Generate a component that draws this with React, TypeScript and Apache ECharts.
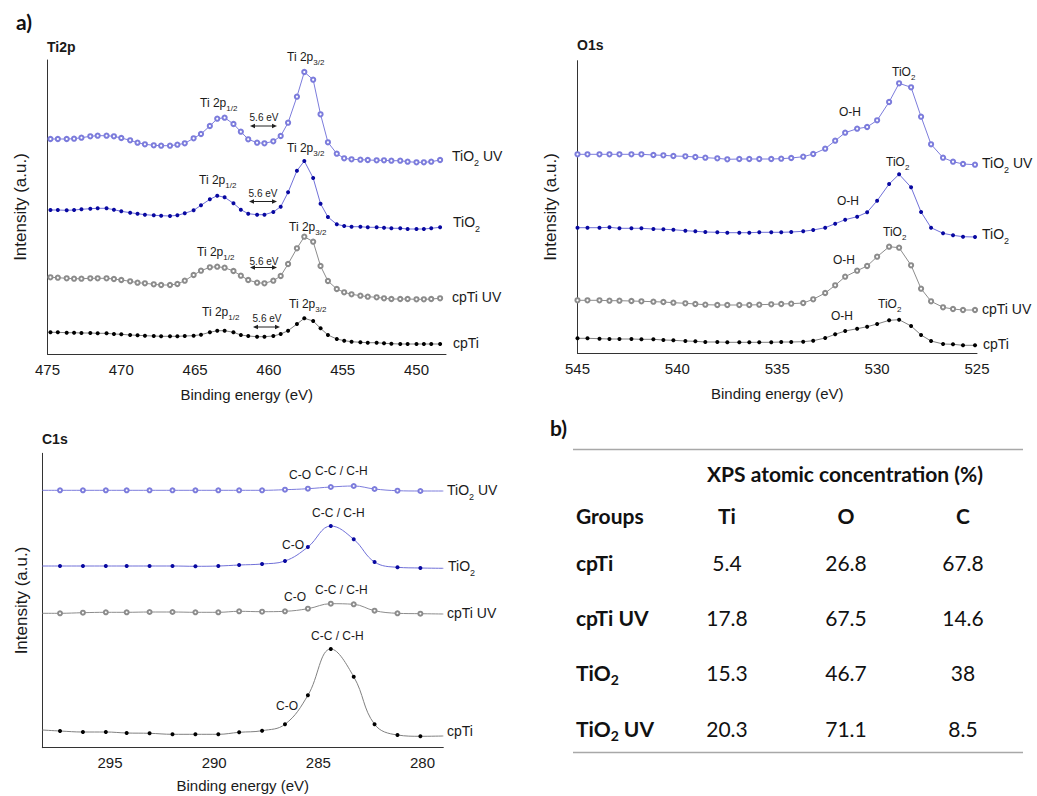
import React, { useEffect, useRef } from 'react';
import * as echarts from 'echarts';

// ---------------- Ti2p panel ----------------
const ti2pEnergy = [474.8, 474.3, 473.7, 473.2, 472.7, 472.1, 471.6, 471.0, 470.5, 470.0, 469.4, 468.9, 468.4, 467.8, 467.3, 466.7, 466.2, 465.7, 465.1, 464.6, 464.0, 463.5, 463.0, 462.4, 461.9, 461.4, 460.8, 460.3, 459.7, 459.2, 458.7, 458.1, 457.6, 457.0, 456.5, 456.0, 455.4, 454.9, 454.4, 453.8, 453.3, 452.7, 452.2, 451.7, 451.1, 450.6, 450.0, 449.5, 449.0, 448.4];
const ti2pTiO2UV = [208, 208, 208, 208.3, 209.3, 210.7, 211.3, 211.3, 210.7, 209, 206.7, 204.3, 202.7, 201.7, 201.3, 201.3, 202.3, 203.7, 208.7, 213, 221, 228.3, 229.3, 223, 215.3, 207.7, 204.3, 203.7, 205.7, 211, 224.3, 250.3, 275, 267.3, 232.7, 204.7, 193.3, 188.7, 187.7, 187.3, 187, 186.7, 186.7, 186.3, 186.3, 185.3, 184.7, 184.7, 185.3, 187];
const ti2pTiO2 = [137, 137, 136.7, 137, 137.7, 138.3, 138.7, 138.7, 137.3, 135.7, 134.3, 133.3, 132.3, 131.7, 131.3, 131, 131.7, 133.7, 136.7, 141.7, 147.7, 151.3, 149.7, 143.7, 137.3, 133.3, 132.3, 132.3, 135, 140.3, 154.7, 176.3, 186, 169, 143.3, 130, 122.7, 121, 120.3, 120.3, 119.7, 119.7, 119.3, 118.7, 118.7, 118, 118, 118, 118.7, 119.7];
const ti2pCpTiUV = [69.7, 69.3, 68.7, 68.3, 68.3, 68.7, 68.7, 68.7, 68, 67, 65.7, 64.3, 63.7, 62.7, 62, 62, 63, 66.3, 72, 76.3, 79.7, 80.3, 79.3, 76, 71.3, 67, 64.3, 63.7, 66.3, 71, 83, 98.7, 110.3, 105.3, 81, 66, 58, 54.7, 52.7, 51.3, 50.3, 49.7, 48.7, 48, 48, 48, 47.7, 47.7, 48, 48.7];
const ti2pCpTi = [14.7, 14.7, 14.3, 14.3, 14, 14, 13.7, 13.7, 13, 12.7, 12, 11.7, 11.3, 11, 10.7, 10.7, 10.7, 11, 11.3, 12.3, 14.7, 16.3, 16.3, 14.7, 12, 11, 10.3, 10.3, 11, 13, 16.3, 23, 28.7, 26, 18.7, 12, 8, 6.3, 5.3, 4.7, 4.3, 4.3, 3.7, 3.3, 3, 3, 3, 3, 3, 3];
const ti2pTicks = [475, 470, 465, 460, 455, 450];

// ---------------- O1s panel ----------------
const o1sEnergy = [545.0, 544.5, 543.9, 543.4, 542.9, 542.3, 541.8, 541.2, 540.7, 540.2, 539.6, 539.1, 538.6, 538.0, 537.5, 536.9, 536.4, 535.9, 535.3, 534.8, 534.3, 533.7, 533.2, 532.6, 532.1, 531.6, 531.0, 530.5, 530.0, 529.4, 528.9, 528.3, 527.8, 527.3, 526.7, 526.2, 525.7, 525.1];
const o1sTiO2UV = [192.7, 192.7, 192.7, 192.7, 192.7, 192.7, 192.7, 192, 191.7, 191, 190.7, 190, 189.3, 188.7, 187.7, 188, 188, 188, 188, 188.3, 189, 190.3, 193, 198.3, 206.3, 214.3, 218.3, 220, 226.7, 245, 263.7, 259.7, 230.3, 202.7, 189.3, 185.3, 183, 182.3];
const o1sTiO2 = [119.3, 119.3, 119.3, 119.7, 118.7, 118.7, 118.7, 118, 117.7, 117.3, 116.3, 115.7, 115, 114.7, 114.3, 114.3, 114.3, 114.7, 114.7, 114.7, 115, 115.7, 117, 119.3, 123.3, 127.3, 130.3, 134.7, 146.3, 163, 172.7, 159.7, 135, 119.3, 113.7, 111.7, 110.3, 110];
const o1sCpTiUV = [46.7, 46.7, 46.7, 46.3, 46.3, 46, 45.7, 45.3, 45, 44.3, 43.7, 43, 42.3, 42, 42, 42, 42, 42.3, 42.7, 43, 43.3, 44, 47.7, 54, 61.7, 70.3, 76.3, 81, 90.3, 100.3, 99.3, 81.7, 58.3, 45.7, 39.7, 38, 37, 37];
const o1sCpTi = [8.7, 8.7, 8.3, 8, 8, 8, 7.7, 7.7, 7, 6.7, 6, 5.7, 5, 5, 4.7, 4.7, 4.7, 4.7, 4.7, 5, 5, 5.3, 6.3, 9, 12.7, 16, 18.3, 20.3, 23, 26.7, 27.3, 21, 12, 6, 3, 2.7, 1.7, 1.7];
const o1sTicks = [545, 540, 535, 530, 525];

// ---------------- C1s panel ----------------
const c1sEnergy = [297.4, 296.3, 295.2, 294.2, 293.1, 292.0, 290.9, 289.8, 288.8, 287.7, 286.6, 285.5, 284.4, 283.3, 282.3, 281.2, 280.1];
const c1sEdgeEnergy = [298.25, 279.0]; // where the traced curves start / end (no marker)
const c1sTiO2UV = [257.4, 257.4, 257.4, 257.4, 257.4, 257.4, 257.4, 257.4, 257.4, 257.4, 258, 259, 260.7, 261.7, 258.7, 257, 256.7];
const c1sTiO2UVEdges = [257.4, 256.7];
const c1sTiO2 = [181.7, 181.7, 181.7, 181.7, 181.7, 181.7, 181.4, 181.7, 182.7, 183.7, 186.7, 200.7, 221.7, 208.4, 185.7, 180.4, 179.7];
const c1sTiO2Edges = [181.7, 179.4];
const c1sCpTiUV = [134.4, 135, 135.4, 135.4, 135.7, 135.7, 135.4, 135.4, 136.4, 136, 136.4, 139, 144, 143.4, 137, 134.4, 134];
const c1sCpTiUVEdges = [134.4, 133.7];
const c1sCpTi = [16.7, 15.7, 15.7, 14.7, 14.4, 13.4, 13.4, 13.4, 15.4, 17, 23.4, 52.4, 98.7, 71, 23.4, 12.7, 11.4];
const c1sCpTiEdges = [17.7, 11.7];
const c1sTicks = [295, 290, 285, 280];

// ---------------- Table (b) ----------------
const tableGroups = ['cpTi', 'cpTi UV', 'TiO_{2}', 'TiO_{2} UV'];
const tableElements = ['Ti', 'O', 'C'];
const tableTi = [5.4, 17.8, 15.3, 20.3];
const tableO = [26.8, 67.5, 46.7, 71.1];
const tableC = [67.8, 14.6, 38, 8.5];

const SANS = '"Liberation Sans", Arial, Helvetica, sans-serif';
const TFONT = 'Lato, "Open Sans", sans-serif';
const INK = '#1a1a1a';

const STY = {
  tio2uv: { symbol: 'emptyCircle', size: 4.2, mark: '#7c7cdc', line: '#7c7cdc', bw: 0.8 },
  tio2: { symbol: 'circle', size: 4, mark: '#0808a0', line: '#7070d8', bw: 0 },
  cptiuv: { symbol: 'emptyCircle', size: 4.2, mark: '#8c8c8c', line: '#8c8c8c', bw: 0.8 },
  cpti: { symbol: 'circle', size: 4, mark: '#000000', line: '#808080', bw: 0 },
};

function toRich(s: string) {
  const parts = s.split(/_\{([^}]*)\}/);
  let out = '';
  parts.forEach((p, i) => {
    if (!p) return;
    out += i % 2 === 0 ? `{m|${p}}` : `{s|${p}}`;
  });
  return out;
}

function richStyles(F: number, S: number, d: number, family: string, weight: any, color: string) {
  const P = Math.max(0, Math.round((F + 2) / 2 + d - S / 2));
  return {
    m: { fontSize: F, lineHeight: F + 2, verticalAlign: 'top', fontFamily: family, fontWeight: weight, fill: color, color },
    s: { fontSize: S, lineHeight: S, padding: [P, 0, 0, 0], fontFamily: family, fontWeight: weight, fill: color, color },
  };
}

function txt(x: number, yc: number, s: string, F: number, o: any = {}) {
  const S = o.S ?? Math.round(F * 0.65);
  const d = o.d ?? F * 0.45;
  const family = o.family ?? SANS;
  const weight = o.weight ?? 'normal';
  const color = o.color ?? INK;
  return {
    type: 'text',
    x,
    y: yc - (F + 2) / 2,
    silent: true,
    style: {
      text: toRich(s),
      rich: richStyles(F, S, d, family, weight, color),
      fontSize: F,
      fontFamily: family,
      fontWeight: weight,
      fill: color,
      align: o.align ?? 'left',
      verticalAlign: 'top',
    },
  };
}

function arrow(x1: number, x2: number, y: number) {
  const c = '#222';
  return [
    { type: 'line', silent: true, shape: { x1: x1 + 2, y1: y, x2: x2 - 2, y2: y }, style: { stroke: c, lineWidth: 1 } },
    { type: 'polygon', silent: true, shape: { points: [[x1, y], [x1 + 5, y - 2.3], [x1 + 5, y + 2.3]] }, style: { fill: c } },
    { type: 'polygon', silent: true, shape: { points: [[x2, y], [x2 - 5, y - 2.3], [x2 - 5, y + 2.3]] }, style: { fill: c } },
  ];
}

function series(name: string, idx: number, xs: number[], ys: number[], st: any, smooth: any = false, edges?: number[]) {
  const data: any[] = xs.map((x, i) => [x, ys[i]]);
  if (edges) {
    data.unshift({ value: [c1sEdgeEnergy[0], edges[0]], symbol: 'none' });
    data.push({ value: [c1sEdgeEnergy[1], edges[1]], symbol: 'none' });
  }
  return {
    type: 'line',
    name,
    xAxisIndex: idx,
    yAxisIndex: idx,
    data,
    symbol: st.symbol,
    symbolSize: st.size,
    showSymbol: true,
    showAllSymbol: true,
    smooth,
    silent: true,
    lineStyle: { color: st.line, width: 1 },
    itemStyle: { color: st.mark, borderColor: st.mark, borderWidth: st.bw },
    emphasis: { disabled: true },
  };
}

function xAxis(idx: number, min: number, max: number, ticks: number[], nameGap: number, margin: number) {
  return {
    type: 'value',
    gridIndex: idx,
    min,
    max,
    inverse: true,
    name: 'Binding energy (eV)',
    nameLocation: 'middle',
    nameGap,
    nameTextStyle: { fontFamily: SANS, fontSize: 15, color: INK },
    axisLine: { show: true, onZero: false, lineStyle: { color: '#333', width: 1 } },
    axisTick: { show: false },
    splitLine: { show: false },
    axisLabel: { customValues: ticks, fontFamily: SANS, fontSize: 15, color: INK, margin },
  };
}

function yAxis(idx: number, min: number, max: number, nameGap: number) {
  return {
    type: 'value',
    gridIndex: idx,
    min,
    max,
    name: 'Intensity (a.u.)',
    nameLocation: 'middle',
    nameGap,
    nameTextStyle: { fontFamily: SANS, fontSize: 17, color: INK },
    axisLine: { show: true, onZero: false, lineStyle: { color: '#333', width: 1 } },
    axisTick: { show: false },
    axisLabel: { show: false },
    splitLine: { show: false },
  };
}

export default function App() {
  const ref = useRef<HTMLDivElement>(null);
  useEffect(() => {
    if (!ref.current) return;
    const chart = echarts.init(ref.current, undefined, { renderer: 'svg' });

    const g: any[] = [];
    // panel letters and titles
    g.push(txt(16, 22, 'a)', 21, { family: TFONT, weight: 'bold', color: '#111' }));
    g.push(txt(550, 428, 'b)', 21, { family: TFONT, weight: 'bold', color: '#111' }));
    g.push(txt(47, 48, 'Ti2p', 14, { weight: 'bold' }));
    g.push(txt(577, 46, 'O1s', 14, { weight: 'bold' }));
    g.push(txt(42, 440, 'C1s', 14, { weight: 'bold' }));

    // Ti2p annotations
    const pk = { S: 8, d: 5.5 };
    g.push(txt(287, 57.5, 'Ti 2p_{3/2}', 12, pk));
    g.push(txt(200, 104, 'Ti 2p_{1/2}', 12, pk));
    g.push(txt(264, 118, '5.6 eV', 10, { align: 'center' }));
    g.push(...arrow(250, 277, 126));
    g.push(txt(287, 149, 'Ti 2p_{3/2}', 12, pk));
    g.push(txt(199, 181, 'Ti 2p_{1/2}', 12, pk));
    g.push(txt(263, 194, '5.6 eV', 10, { align: 'center' }));
    g.push(...arrow(249, 277, 201.5));
    g.push(txt(289, 228, 'Ti 2p_{3/2}', 12, pk));
    g.push(txt(197, 253, 'Ti 2p_{1/2}', 12, pk));
    g.push(txt(264, 262, '5.6 eV', 10, { align: 'center' }));
    g.push(...arrow(250, 277, 267.5));
    g.push(txt(289, 305, 'Ti 2p_{3/2}', 12, pk));
    g.push(txt(202, 313, 'Ti 2p_{1/2}', 12, pk));
    g.push(txt(267, 319.5, '5.6 eV', 10, { align: 'center' }));
    g.push(...arrow(253, 280, 327));

    const side = { S: 9, d: 7.5 };
    g.push(txt(452, 157, 'TiO_{2} UV', 14, side));
    g.push(txt(453, 223, 'TiO_{2}', 14, side));
    g.push(txt(452, 298, 'cpTi UV', 14, side));
    g.push(txt(453, 343.5, 'cpTi', 14, side));

    // O1s annotations
    g.push(txt(892, 73, 'TiO_{2}', 12, pk));
    g.push(txt(839, 113, 'O-H', 12));
    g.push(txt(886, 163, 'TiO_{2}', 12, pk));
    g.push(txt(837, 202, 'O-H', 12));
    g.push(txt(883, 233, 'TiO_{2}', 12, pk));
    g.push(txt(833, 261, 'O-H', 12));
    g.push(txt(878, 305, 'TiO_{2}', 12, pk));
    g.push(txt(831, 317, 'O-H', 12));
    g.push(txt(982, 164, 'TiO_{2} UV', 14, side));
    g.push(txt(982, 235, 'TiO_{2}', 14, side));
    g.push(txt(982, 309.5, 'cpTi UV', 14, side));
    g.push(txt(983, 345, 'cpTi', 14, side));

    // C1s annotations
    g.push(txt(289, 476, 'C-O', 12));
    g.push(txt(315, 472, 'C-C / C-H', 12));
    g.push(txt(312, 514, 'C-C / C-H', 12));
    g.push(txt(282, 546, 'C-O', 12));
    g.push(txt(284, 598, 'C-O', 12));
    g.push(txt(315, 591, 'C-C / C-H', 12));
    g.push(txt(311, 637, 'C-C / C-H', 12));
    g.push(txt(276, 707, 'C-O', 12));
    g.push(txt(447, 491, 'TiO_{2} UV', 14, side));
    g.push(txt(448, 567, 'TiO_{2}', 14, side));
    g.push(txt(447, 614, 'cpTi UV', 14, side));
    g.push(txt(447, 732, 'cpTi', 14, side));

    // Table
    const rule = { stroke: '#a8a8a8', lineWidth: 1.5 };
    g.push({ type: 'line', silent: true, shape: { x1: 573, y1: 449.5, x2: 1023, y2: 449.5 }, style: rule });
    g.push({ type: 'line', silent: true, shape: { x1: 573, y1: 752.5, x2: 1023, y2: 752.5 }, style: rule });
    const tb = { family: TFONT, color: '#111', S: 14, d: 7 };
    g.push(txt(845, 474, 'XPS atomic concentration (%)', 21, { ...tb, weight: 'bold', align: 'center' }));
    const colX = [727, 846, 963];
    g.push(txt(576, 516, 'Groups', 21, { ...tb, weight: 'bold' }));
    tableElements.forEach((e, i) => g.push(txt(colX[i], 516, e, 21, { ...tb, weight: 'bold', align: 'center' })));
    const rowY = [563.5, 618.5, 673.5, 729.5];
    tableGroups.forEach((name, r) => {
      g.push(txt(576, rowY[r], name, 21, { ...tb, weight: 'bold' }));
      [tableTi, tableO, tableC].forEach((col, c) => {
        g.push(txt(colX[c], rowY[r], String(col[r]), 21, { ...tb, align: 'center' }));
      });
    });

    const option: any = {
      animation: false,
      backgroundColor: '#ffffff',
      grid: [
        { left: 47.5, top: 60, width: 398.5, height: 294 },
        { left: 577.5, top: 60.7, width: 399.5, height: 292.6 },
        { left: 42.3, top: 453.3, width: 401, height: 294.4 },
      ].map((gr) => ({ ...gr, containLabel: false, outerBoundsMode: 'none' })),
      xAxis: [
        xAxis(0, 448, 475, ti2pTicks, 33, 8),
        xAxis(1, 525, 545, o1sTicks, 33, 8),
        xAxis(2, 279, 298.25, c1sTicks, 30, 7),
      ],
      yAxis: [yAxis(0, -7, 287, 19), yAxis(1, -6.3, 286.3, 19), yAxis(2, 0, 294.4, 12)],
      series: [
        series('TiO2 UV', 0, ti2pEnergy, ti2pTiO2UV, STY.tio2uv),
        series('TiO2', 0, ti2pEnergy, ti2pTiO2, STY.tio2),
        series('cpTi UV', 0, ti2pEnergy, ti2pCpTiUV, STY.cptiuv),
        series('cpTi', 0, ti2pEnergy, ti2pCpTi, STY.cpti),
        series('TiO2 UV', 1, o1sEnergy, o1sTiO2UV, STY.tio2uv),
        series('TiO2', 1, o1sEnergy, o1sTiO2, STY.tio2),
        series('cpTi UV', 1, o1sEnergy, o1sCpTiUV, STY.cptiuv),
        series('cpTi', 1, o1sEnergy, o1sCpTi, STY.cpti),
        series('TiO2 UV', 2, c1sEnergy, c1sTiO2UV, { ...STY.tio2uv, size: 4 }, 0.4, c1sTiO2UVEdges),
        series('TiO2', 2, c1sEnergy, c1sTiO2, STY.tio2, 0.4, c1sTiO2Edges),
        series('cpTi UV', 2, c1sEnergy, c1sCpTiUV, { ...STY.cptiuv, size: 4 }, 0.4, c1sCpTiUVEdges),
        series('cpTi', 2, c1sEnergy, c1sCpTi, STY.cpti, 0.4, c1sCpTiEdges),
      ],
      graphic: { elements: g },
    };
    chart.setOption(option);
    return () => chart.dispose();
  }, []);

  return <div ref={ref} style={{ position: 'absolute', left: 0, top: 0, width: 1037, height: 796, background: '#fff' }} />;
}
